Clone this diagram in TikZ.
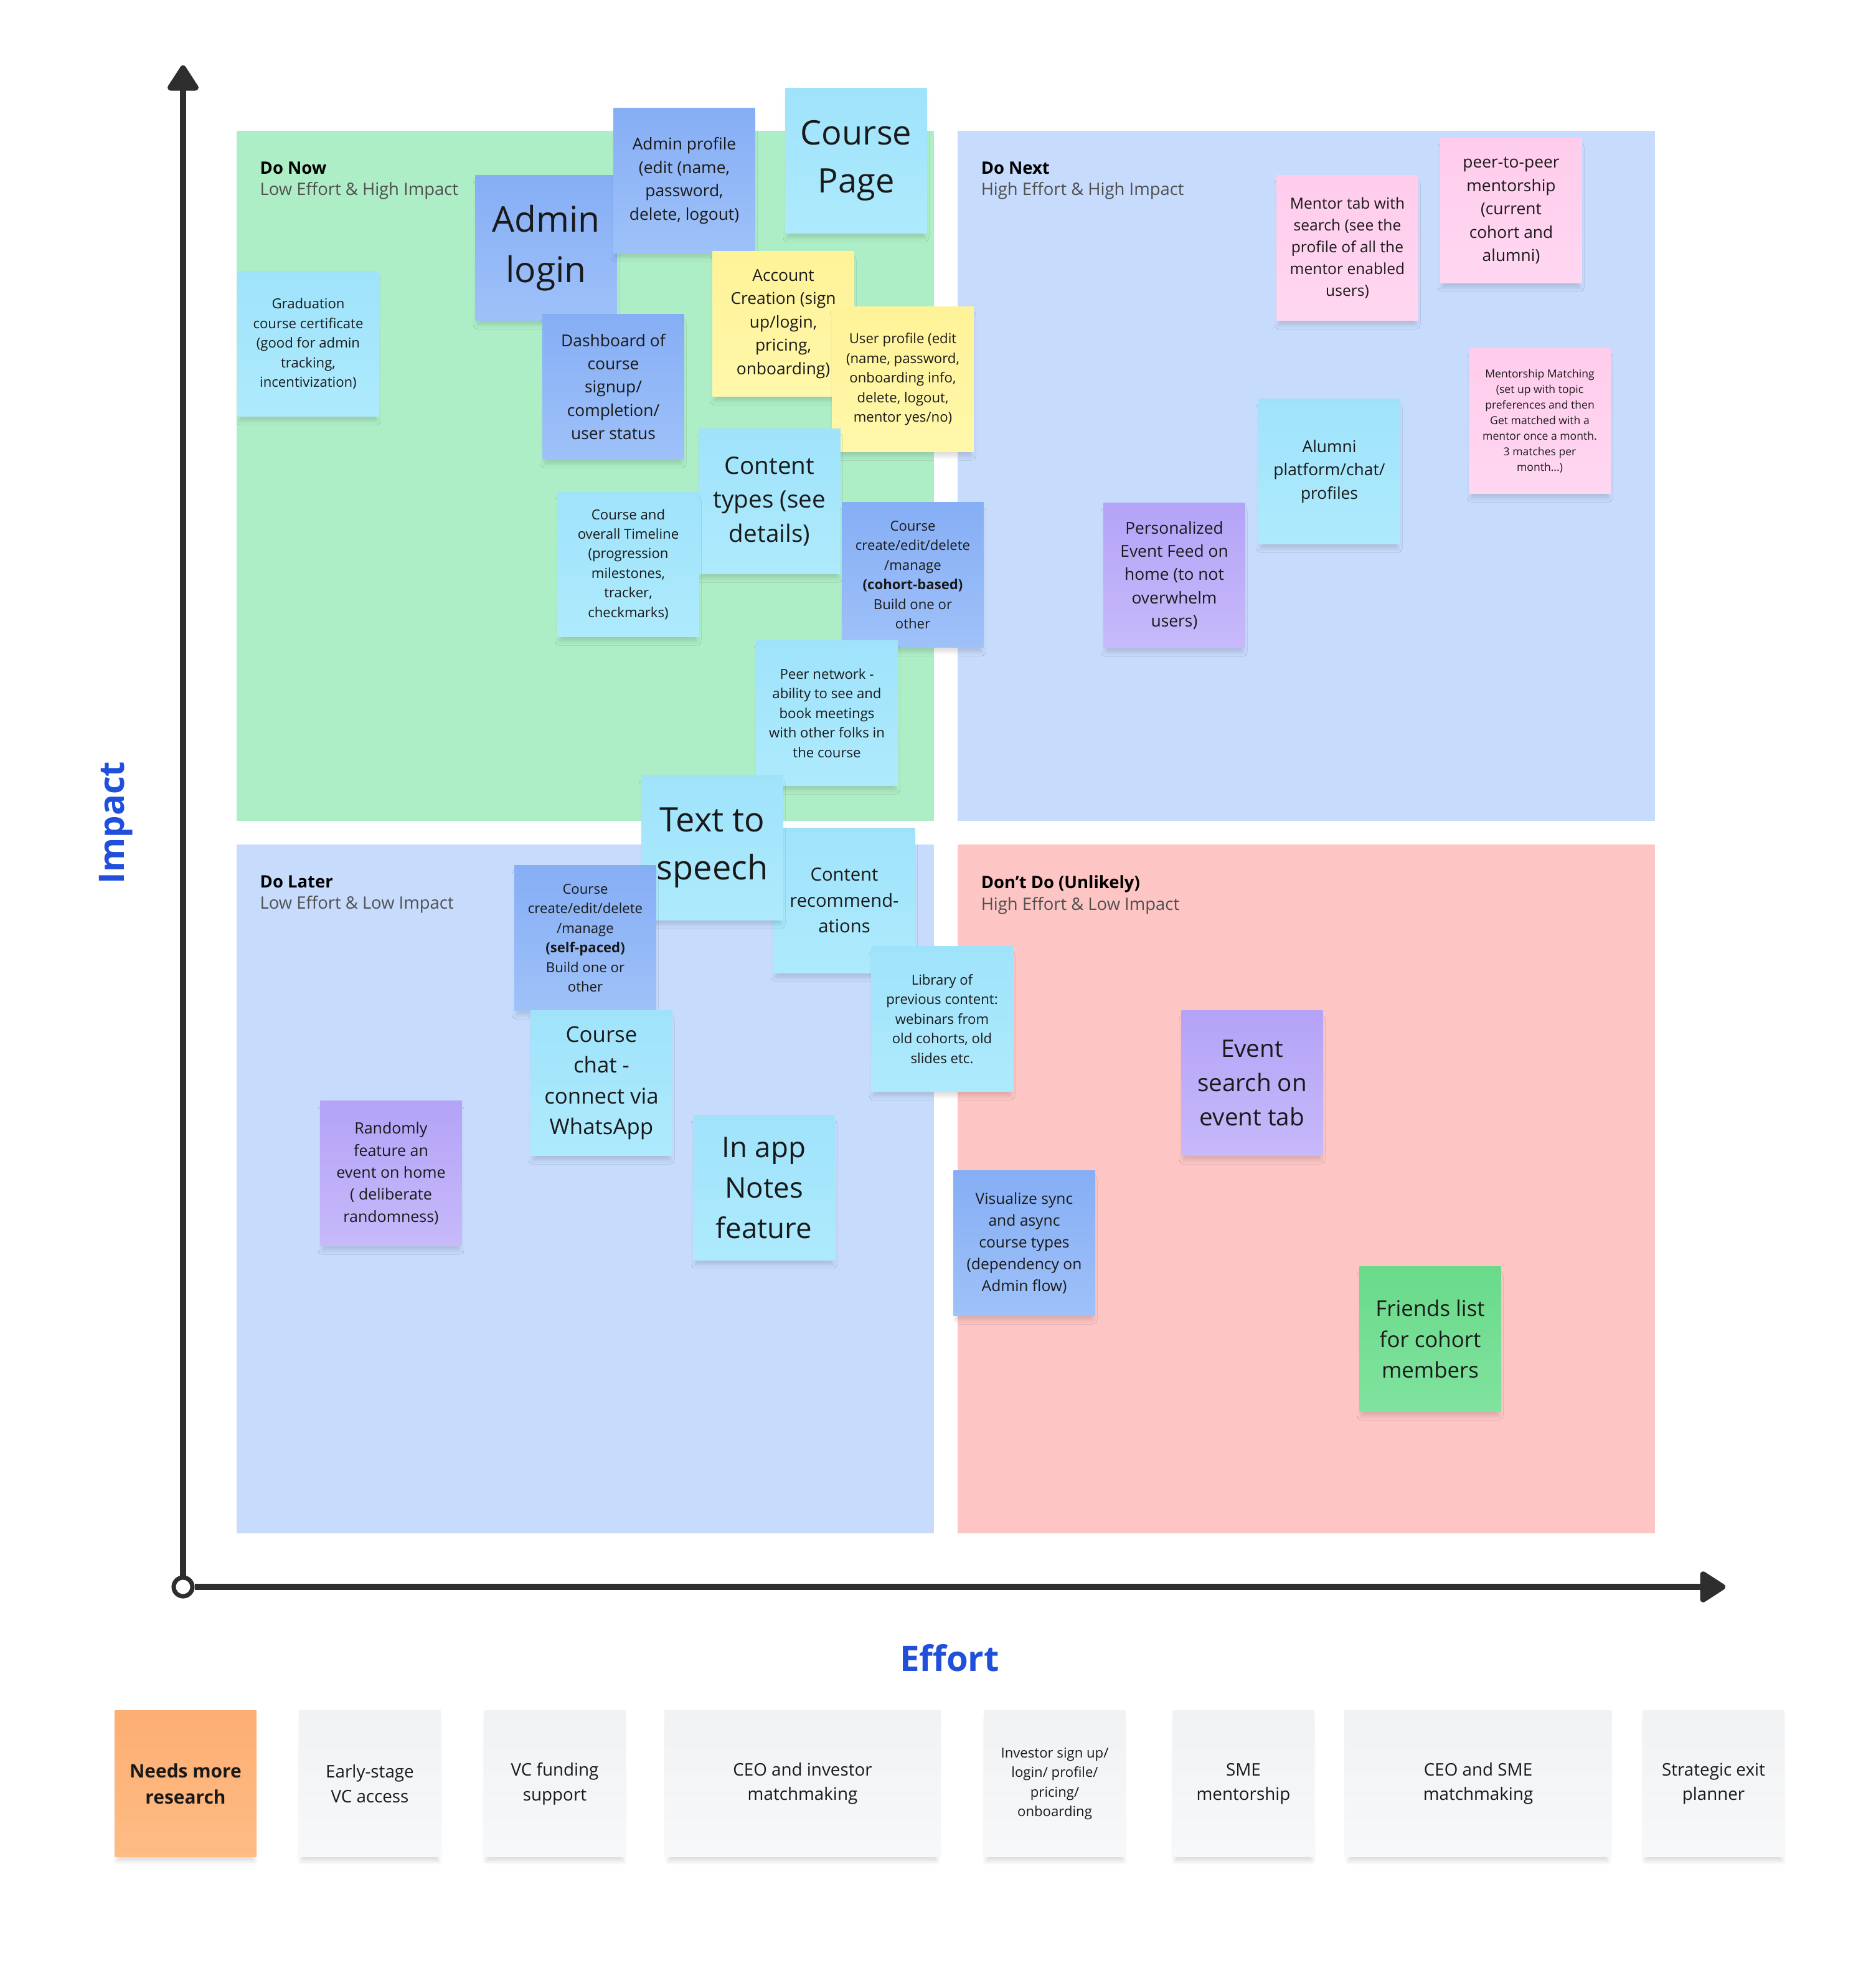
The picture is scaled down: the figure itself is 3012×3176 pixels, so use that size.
\documentclass[tikz,border=0pt]{standalone}
\usepackage{fontspec}
\setmainfont{Open Sans}
\usetikzlibrary{arrows.meta,shadows.blur}

\definecolor{quadgreen}{HTML}{AEEEC6}
\definecolor{quadblue}{HTML}{C7DBFC}
\definecolor{quadpink}{HTML}{FEC5C5}
\definecolor{cyanTop}{HTML}{9FE3FB}
\definecolor{cyanBot}{HTML}{AEEAFD}
\definecolor{blueTop}{HTML}{86AEF5}
\definecolor{blueBot}{HTML}{9EC1F8}
\definecolor{yellowTop}{HTML}{FFF398}
\definecolor{yellowBot}{HTML}{FFF7AA}
\definecolor{purpleTop}{HTML}{B4A3F7}
\definecolor{purpleBot}{HTML}{C7B9FA}
\definecolor{pinkTop}{HTML}{FFCCEC}
\definecolor{pinkBot}{HTML}{FFD7F1}
\definecolor{greenTop}{HTML}{69DA8A}
\definecolor{greenBot}{HTML}{80E39E}
\definecolor{orangeTop}{HTML}{FDAE72}
\definecolor{orangeBot}{HTML}{FDBC85}
\definecolor{grayTop}{HTML}{F1F2F4}
\definecolor{grayBot}{HTML}{F7F8F9}
\definecolor{axisgray}{HTML}{2E2E2E}
\definecolor{labelblue}{HTML}{1F4FDB}
\definecolor{inkgray}{HTML}{4F4F4F}

\newcommand\notesize[1]{\fontsize{#1}{\fpeval{1.42*#1}}\selectfont}

\begin{document}
\begin{tikzpicture}[x=0.01cm,y=-0.01cm,
    quad/.style={anchor=north west, inner sep=0pt, minimum width=11.2cm, minimum height=11.08cm},
    quadtitle/.style={anchor=north west, inner sep=0pt, align=left, text=inkgray,
        font=\fontsize{7.8}{9.8}\selectfont},
    sticky/.style={inner sep=0pt, align=center, minimum width=2.27cm, minimum height=2.33cm,
        text=black!90,
        blur shadow={shadow xshift=0pt, shadow yshift=-3pt, shadow scale=0.97,
            shadow blur radius=2pt, shadow opacity=14}},
    cyan note/.style={sticky, top color=cyanTop, bottom color=cyanBot},
    blue note/.style={sticky, top color=blueTop, bottom color=blueBot},
    yellow note/.style={sticky, top color=yellowTop, bottom color=yellowBot},
    purple note/.style={sticky, top color=purpleTop, bottom color=purpleBot},
    pink note/.style={sticky, top color=pinkTop, bottom color=pinkBot},
    green note/.style={sticky, top color=greenTop, bottom color=greenBot},
    gray note/.style={sticky, minimum height=2.35cm, top color=grayTop, bottom color=grayBot},
    orange note/.style={sticky, minimum height=2.35cm, top color=orangeTop, bottom color=orangeBot},
    txt xs/.style={font=\notesize{6.3}},
    txt s/.style={font=\notesize{7}},
    txt m/.style={font=\notesize{7.5}},
    txt b/.style={font=\notesize{7.9}},
    txt l/.style={font=\notesize{9.9}},
    txt xl/.style={font=\notesize{11}},
    txt huge/.style={font=\notesize{15.4}},
    axis/.style={draw=axisgray, line width=2.8pt, -{Triangle[width=0.55cm,length=0.45cm,round]}},
    axislabel/.style={text=labelblue, font=\fontsize{16}{19}\selectfont\bfseries}]
    \useasboundingbox (0,0) rectangle (3012,3176);

    % quadrants
    \node (DoNow)[quad, fill=quadgreen] at (379,209) {};
    \node (DoNext)[quad, fill=quadblue] at (1537,209) {};
    \node (DoLater)[quad, fill=quadblue, minimum height=11.06cm] at (379,1355) {};
    \node (DontDo)[quad, fill=quadpink, minimum height=11.06cm] at (1537,1355) {};

    \node (DoNowTitle)[quadtitle] at ([xshift=0.38cm,yshift=-0.5cm]DoNow.north west)
        {{\color{black}\bfseries Do Now}\\Low Effort \& High Impact};
    \node (DoNextTitle)[quadtitle] at ([xshift=0.38cm,yshift=-0.5cm]DoNext.north west)
        {{\color{black}\bfseries Do Next}\\High Effort \& High Impact};
    \node (DoLaterTitle)[quadtitle] at ([xshift=0.38cm,yshift=-0.5cm]DoLater.north west)
        {{\color{black}\bfseries Do Later}\\Low Effort \& Low Impact};
    \node (DontDoTitle)[quadtitle] at ([xshift=0.38cm,yshift=-0.5cm]DontDo.north west)
        {{\color{black}\bfseries Don't Do (Unlikely)}\\High Effort \& Low Impact};

    % axes
    \node (Origin)[circle, draw=axisgray, fill=white, line width=2pt, minimum size=0.3cm, inner sep=0pt] at (294,2548) {};
    \coordinate (ImpactTip) at (294,105);
    \coordinate (EffortTip) at (2771,2548);
    \draw[axis] (Origin) -- (ImpactTip);
    \draw[axis] (Origin) -- (EffortTip);
    \node (Impact)[axislabel, rotate=90] at (186,1321) {Impact};
    \node (Effort)[axislabel] at (1525,2662) {Effort};

    % do now
    \node (Graduation)[cyan note, txt xs] at (495,552) {Graduation\\course certificate\\(good for admin\\tracking,\\incentivization)};
    \node (AdminLogin)[blue note, font=\notesize{16.2}] at (877,398) {Admin\\login};
    \node (AdminProfile)[blue note, txt m] at (1099,290) {Admin profile\\(edit (name,\\password,\\delete, logout)};
    \node (CoursePage)[cyan note, txt huge] at (1375,258) {Course\\Page};
    \node (AccountCreation)[yellow note, txt m] at (1258,520) {Account\\Creation (sign\\up/login,\\pricing,\\onboarding)};
    \node (UserProfile)[yellow note, txt xs] at (1450,609) {User profile (edit\\(name, password,\\onboarding info,\\delete, logout,\\mentor yes/no)};
    \node (Dashboard)[blue note, txt m] at (985,621) {Dashboard of\\course\\signup/\\completion/\\user status};
    \node (ContentTypes)[cyan note, txt xl] at (1236,805) {Content\\types (see\\details)};
    \node (Timeline)[cyan note, txt xs] at (1009,906) {Course and\\overall Timeline\\(progression\\milestones,\\tracker,\\checkmarks)};
    \node (CohortCourse)[blue note, txt xs] at (1466,923) {Course\\create/edit/delete\\/manage\\\textbf{(cohort-based)}\\Build one or\\other};
    \node (PeerNetwork)[cyan note, txt xs] at (1328,1145) {Peer network -\\ability to see and\\book meetings\\with other folks in\\the course};

    % do later
    \node (ContentRecomm)[cyan note, font=\notesize{8.3}] at (1356,1446) {Content\\recommend-\\ations};
    \node (TextToSpeech)[cyan note, txt huge] at (1144,1361) {Text to\\speech};
    \node (SelfPaced)[blue note, txt xs] at (940,1506) {Course\\create/edit/delete\\/manage\\\textbf{(self-paced)}\\Build one or\\other};
    \node (CourseChat)[cyan note, txt l] at (966,1739) {Course\\chat -\\connect via\\WhatsApp};
    \node (Library)[cyan note, txt xs] at (1513,1636) {Library of\\previous content:\\webinars from\\old cohorts, old\\slides etc.};
    \node (InAppNotes)[cyan note, font=\notesize{13}] at (1227,1907) {In app\\Notes\\feature};
    \node (Randomly)[purple note, font=\notesize{7.1}] at (628,1884) {Randomly\\feature an\\event on home\\( deliberate\\randomness)};

    % don't do
    \node (Visualize)[blue note, txt s] at (1645,1996) {Visualize sync\\and async\\course types\\(dependency on\\Admin flow)};
    \node (EventSearch)[purple note, txt xl] at (2011,1739) {Event\\search on\\event tab};
    \node (FriendsList)[green note, txt l] at (2297,2150) {Friends list\\for cohort\\members};

    % do next
    \node (EventFeed)[purple note, txt m] at (1886,924) {Personalized\\Event Feed on\\home (to not\\overwhelm\\users)};
    \node (Alumni)[cyan note, txt m] at (2135,757) {Alumni\\platform/chat/\\profiles};
    \node (MentorTab)[pink note, txt s] at (2164,398) {Mentor tab with\\search (see the\\profile of all the\\mentor enabled\\users)};
    \node (PeerMentorship)[pink note, txt m] at (2427,338) {peer-to-peer\\mentorship\\(current\\cohort and\\alumni)};
    \node (MentorMatching)[pink note, font=\notesize{5}] at (2473,676) {Mentorship Matching\\(set up with topic\\preferences and then\\Get matched with a\\mentor once a month.\\3 matches per\\month...)};

    % parking lot
    \node (NeedsResearch)[orange note, font=\notesize{8.5}\bfseries] at (298,2864) {Needs more\\research};
    \node (EarlyStage)[gray note, txt b] at (594,2864) {Early-stage\\VC access};
    \node (VCFunding)[gray note, txt b] at (891,2864) {VC funding\\support};
    \node (CEOInvestor)[gray note, txt b, minimum width=4.44cm] at (1289,2864) {CEO and investor\\matchmaking};
    \node (InvestorSignup)[gray note, txt xs] at (1694,2864) {Investor sign up/\\login/ profile/\\pricing/\\onboarding};
    \node (SMEMentorship)[gray note, txt b] at (1997,2864) {SME\\mentorship};
    \node (CEOSME)[gray note, txt b, minimum width=4.29cm] at (2374,2864) {CEO and SME\\matchmaking};
    \node (ExitPlanner)[gray note, txt b] at (2752,2864) {Strategic exit\\planner};
\end{tikzpicture}
\end{document}
